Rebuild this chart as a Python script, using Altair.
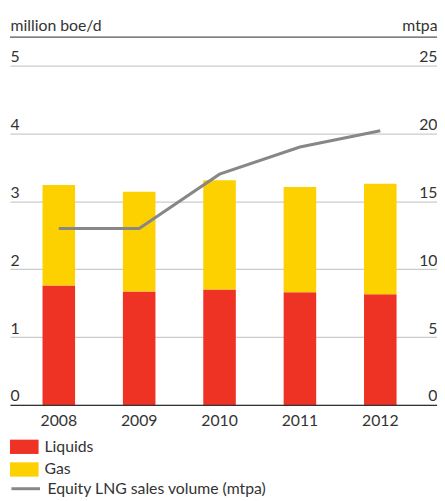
import altair as alt
import pandas as pd

years = ["2008", "2009", "2010", "2011", "2012"]
liquids = [1.76, 1.67, 1.70, 1.66, 1.63]
gas = [1.48, 1.47, 1.61, 1.55, 1.63]
lng = [13.0, 13.0, 17.0, 19.0, 20.2]
series = ["Liquids", "Gas"]
line_name = "Equity LNG sales volume (mtpa)"
left_ticks = [0, 1, 2, 3, 4, 5]
right_ticks = [0, 5, 10, 15, 20, 25]

rows = []
for i, yr in enumerate(years):
    rows.append({"year": yr, "type": "Liquids", "value": liquids[i], "order": 0})
    rows.append({"year": yr, "type": "Gas", "value": gas[i], "order": 1})
bars_df = pd.DataFrame(rows)
line_df = pd.DataFrame({"year": years, "lng": lng, "series": [line_name] * len(years)})

W, H = 433, 344
FONT = "Lato"
TXT = "#333333"
FS = 16

xscale = alt.Scale(domain=years, paddingInner=0.595, paddingOuter=0.454, align=0.446)
xaxis = alt.Axis(title=None, ticks=False, tickSize=0, labelPadding=21, labelBaseline="alphabetic",
                 labelFontSize=FS, labelFont=FONT, labelColor=TXT, domainColor="#333333",
                 domainWidth=1.4, grid=False, labelAngle=0, zindex=1)

left_axis = alt.Axis(values=left_ticks, orient="left", title="million boe/d", grid=True,
                     gridColor="#cccccc", gridWidth=1.3, domain=False, ticks=False, tickSize=0,
                     labelAlign="left", labelPadding=0, labelBaseline="alphabetic", labelOffset=-4,
                     labelFontSize=FS, labelFont=FONT, labelColor=TXT,
                     titleAngle=0, titleAlign="left", titleBaseline="alphabetic", titleX=0, titleY=-36,
                     titleFontSize=FS, titleFontWeight="normal", titleFont=FONT, titleColor=TXT)

right_axis = alt.Axis(values=right_ticks, orient="right", title="mtpa", grid=False,
                      domain=False, ticks=False, tickSize=0,
                      labelAlign="right", labelPadding=0, labelBaseline="alphabetic", labelOffset=-4,
                      labelFontSize=FS, labelFont=FONT, labelColor=TXT,
                      titleAngle=0, titleAlign="right", titleBaseline="alphabetic", titleX=0, titleY=-36,
                      titleFontSize=FS, titleFontWeight="normal", titleFont=FONT, titleColor=TXT)

bars = alt.Chart(bars_df).mark_bar().encode(
    x=alt.X("year:N", scale=xscale, axis=xaxis),
    y=alt.Y("value:Q", stack="zero", scale=alt.Scale(domain=[0, 5], nice=False), axis=left_axis),
    fill=alt.Fill("type:N", scale=alt.Scale(domain=series, range=["#EE3224", "#FDD000"]),
                  legend=alt.Legend(title=None, orient="none", legendX=0, legendY=372,
                                    symbolType="M-1,-0.5H1V0.5H-1Z", symbolSize=841,
                                    symbolStrokeWidth=0, symbolOpacity=1, labelOffset=6,
                                    labelFontSize=FS, labelFont=FONT, labelColor=TXT,
                                    rowPadding=-8, padding=0)),
    order=alt.Order("order:Q"),
)

line = alt.Chart(line_df).mark_line(strokeWidth=3).encode(
    x=alt.X("year:N"),
    y=alt.Y("lng:Q", scale=alt.Scale(domain=[0, 25], nice=False), axis=right_axis),
    stroke=alt.Stroke("series:N", scale=alt.Scale(domain=[line_name], range=["#878787"]),
                      legend=alt.Legend(title=None, orient="none", legendX=0, legendY=413,
                                        symbolType="stroke", symbolSize=841, symbolStrokeWidth=3,
                                        labelOffset=6, labelFontSize=FS, labelFont=FONT,
                                        labelColor=TXT, labelLimit=400, padding=0)),
)

top_rule = alt.Chart(pd.DataFrame({"k": [0]})).mark_rule(color="#555555", strokeWidth=1.3).encode(
    x=alt.value(0), x2=alt.value(W), y=alt.value(-29)
)

chart = alt.layer(bars, line, top_rule).resolve_scale(y="independent").properties(
    width=W, height=H,
    autosize=alt.AutoSizeParams(type="none"),
    padding={"left": 2, "top": 55, "right": 0, "bottom": 93},
).configure_view(stroke=None)

chart.save("out.html", embed_options={"renderer": "svg", "actions": False})
